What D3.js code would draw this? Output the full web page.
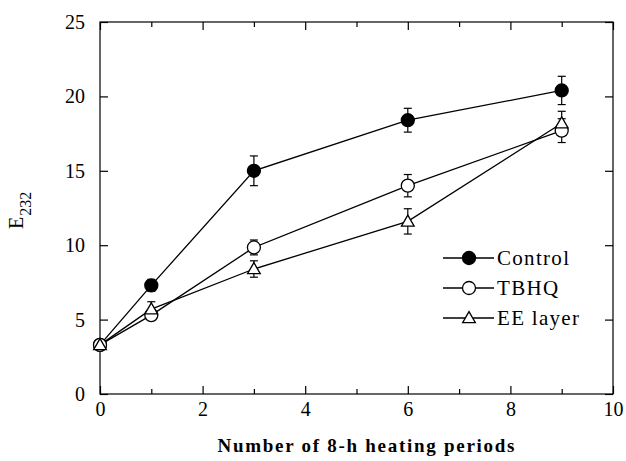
<!DOCTYPE html>
<html>
<head>
<meta charset="utf-8">
<script src="https://cdn.jsdelivr.net/npm/d3@7"></script>
<style>
  body { margin: 0; background: #fff; }
  svg { display: block; }
  svg text { font-family: "Times New Roman", Times, "Liberation Serif", "DejaVu Serif", serif; }
</style>
</head>
<body>
<svg width="626" height="461"></svg>
<script>
// periods on x axis
const periods = [0, 1, 3, 6, 9];

// E232 values, with error bar half-widths
const control    = [3.3, 7.3, 15.0, 18.4, 20.4];
const controlErr = [0.2, 0.4, 1.0, 0.8, 0.95];
const tbhq       = [3.3, 5.3, 9.85, 14.0, 17.7];
const tbhqErr    = [0.2, 0.3, 0.5, 0.75, 0.8];
const eeLayer    = [3.3, 5.7, 8.4, 11.6, 18.2];
const eeErr      = [0.2, 0.5, 0.55, 0.85, 0.8];

const xTicks = [0, 2, 4, 6, 8, 10];
const xMinor = [1, 3, 5, 7, 9];
const yTicks = [0, 5, 10, 15, 20, 25];

const seriesNames = ["Control", "TBHQ", "EE layer"];

const series = [
  { name: seriesNames[0], vals: control, err: controlErr, shape: "circle", fill: "#000" },
  { name: seriesNames[1], vals: tbhq,    err: tbhqErr,    shape: "circle", fill: "#fff" },
  { name: seriesNames[2], vals: eeLayer, err: eeErr,      shape: "triangle", fill: "#fff" }
];

const svg = d3.select("svg");
const pL = 100, pR = 613, pT = 22, pB = 394;

const x = d3.scaleLinear().domain([0, 10]).range([pL, pR]);
const y = d3.scaleLinear().domain([0, 25]).range([pB, pT]);

// frame
svg.append("rect")
  .attr("x", pL).attr("y", pT)
  .attr("width", pR - pL).attr("height", pB - pT)
  .attr("fill", "none").attr("stroke", "#000").attr("stroke-width", 1.2);

function styleAxis(g) {
  g.attr("font-family", null).attr("font-size", null);
  g.select(".domain").remove();
  g.selectAll("line").attr("stroke", "#000").attr("stroke-width", 1.2);
  g.selectAll("text").attr("fill", "#000").style("font-size", "20px");
}

// bottom axis
svg.append("g").attr("transform", `translate(0,${pB})`)
  .call(d3.axisBottom(x).tickValues(xTicks).tickSize(-8).tickPadding(8).tickFormat(d3.format("d")))
  .call(styleAxis);
svg.append("g").attr("transform", `translate(0,${pB})`)
  .call(d3.axisBottom(x).tickValues(xMinor).tickSize(-5).tickFormat(""))
  .call(styleAxis);
// top axis
svg.append("g").attr("transform", `translate(0,${pT})`)
  .call(d3.axisTop(x).tickValues(xTicks).tickSize(-8).tickFormat(""))
  .call(styleAxis);
svg.append("g").attr("transform", `translate(0,${pT})`)
  .call(d3.axisTop(x).tickValues(xMinor).tickSize(-5).tickFormat(""))
  .call(styleAxis);
// left axis
svg.append("g").attr("transform", `translate(${pL},0)`)
  .call(d3.axisLeft(y).tickValues(yTicks).tickSize(-8).tickPadding(15).tickFormat(d3.format("d")))
  .call(styleAxis);
// right axis
svg.append("g").attr("transform", `translate(${pR},0)`)
  .call(d3.axisRight(y).tickValues(yTicks).tickSize(-8).tickFormat(""))
  .call(styleAxis);

// lines
const line = d3.line().x((d, i) => x(periods[i])).y(d => y(d));
series.forEach(s => {
  svg.append("path").datum(s.vals)
    .attr("fill", "none").attr("stroke", "#000").attr("stroke-width", 1.3)
    .attr("d", line);
});

// error bars
series.forEach(s => {
  const g = svg.append("g").attr("stroke", "#000").attr("stroke-width", 1.2);
  s.vals.forEach((v, i) => {
    const cx = x(periods[i]);
    const y1 = y(v + s.err[i]), y2 = y(v - s.err[i]);
    g.append("line").attr("x1", cx).attr("x2", cx).attr("y1", y1).attr("y2", y2);
    g.append("line").attr("x1", cx - 4).attr("x2", cx + 4).attr("y1", y1).attr("y2", y1);
    g.append("line").attr("x1", cx - 4).attr("x2", cx + 4).attr("y1", y2).attr("y2", y2);
  });
});

// markers
const triPath = d3.symbol().type(d3.symbolTriangle).size(70);
function drawMarker(g, shape, fill, cx, cy) {
  if (shape === "circle") {
    g.append("circle").attr("cx", cx).attr("cy", cy).attr("r", 6.5)
      .attr("fill", fill).attr("stroke", "#000").attr("stroke-width", 1.3);
  } else {
    g.append("path").attr("d", triPath())
      .attr("transform", `translate(${cx},${cy + 1})`)
      .attr("fill", fill).attr("stroke", "#000").attr("stroke-width", 1.3);
  }
}
series.forEach(s => {
  const g = svg.append("g");
  s.vals.forEach((v, i) => drawMarker(g, s.shape, s.fill, x(periods[i]), y(v)));
});

// legend
const leg = svg.append("g");
series.forEach((s, i) => {
  const ly = 258 + i * 30;
  leg.append("line").attr("x1", 443).attr("x2", 494).attr("y1", ly).attr("y2", ly)
    .attr("stroke", "#000").attr("stroke-width", 1.3);
  drawMarker(leg, s.shape, s.fill, 469, ly);
  leg.append("text").attr("x", 497).attr("y", ly).attr("dy", "0.35em")
    .style("font-size", "21px").style("letter-spacing", "1.3px")
    .attr("fill", "#000").text(s.name);
});

// axis titles
svg.append("text")
  .attr("x", 366).attr("y", 452).attr("text-anchor", "middle")
  .attr("textLength", 297).attr("lengthAdjust", "spacing")
  .style("font-size", "19px").style("font-weight", "bold")
  .text("Number of 8-h heating periods");

const yt = svg.append("text")
  .attr("transform", "translate(23,229) rotate(-90)")
  .style("font-size", "20px");
yt.append("tspan").text("E");
yt.append("tspan").attr("dy", 8).style("font-size", "16px").attr("dx", 1).text("232");
</script>
</body>
</html>
